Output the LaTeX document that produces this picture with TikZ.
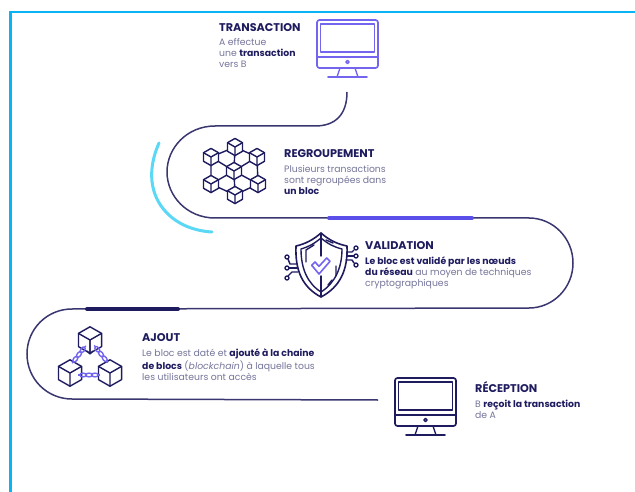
\documentclass[tikz,border=0pt]{standalone}
\usepackage{fontspec}
\setmainfont{Poppins}
\usetikzlibrary{arrows.meta}
\definecolor{navy}{HTML}{1E1B5E}
\definecolor{pathc}{HTML}{3A3770}
\definecolor{violet}{HTML}{5B4FEA}
\definecolor{iconv}{HTML}{7465EE}
\definecolor{sky}{HTML}{5AD8F5}
\definecolor{frame}{HTML}{08B4F4}
\definecolor{bodyc}{HTML}{75759B}
\newcommand{\hl}[1]{\textbf{\textcolor{navy}{#1}}}
\tikzset{
  ttl/.style={anchor=north west,inner sep=0pt,text=navy,font=\fontsize{11.2}{12}\selectfont\bfseries},
  bodytxt/.style={anchor=north west,inner sep=0pt,align=left,text=bodyc,font=\fontsize{9.3}{11}\selectfont},
  road/.style={draw=pathc,line width=1.5pt},
  ic/.style={line width=1.4pt,line join=round,line cap=round},
}
% monitor at upper-left corner
\newcommand{\monitor}[3]{%
\begin{scope}[shift={(#1,#2)},ic,draw=#3]
 \draw[rounded corners=2.5pt,line width=1.7pt] (0,0) rectangle (61,48);
 \draw[line width=1.5pt] (3.5,4) rectangle (57.5,32);
 \draw (0,37) -- (61,37);
 \draw (30.5,42) circle (1.7);
 \draw (23,48) -- (20,57) (38,48) -- (41,57);
 \draw[line width=1.7pt] (11,57) -- (50,57);
\end{scope}}
% cube centred at a point
\newcommand{\hcube}[3]{%
\begin{scope}[shift={(#1,#2)},ic,draw=navy,scale=#3]
 \draw (0,-8) -- (7,-4) -- (7,4) -- (0,8) -- (-7,4) -- (-7,-4) -- cycle;
 \draw (-7,-4) -- (0,0) -- (7,-4) (0,0) -- (0,8);
\end{scope}}
% chain between two points
\newcommand{\chainlink}[4]{%
\begin{scope}[shift={(#1,#2)},rotate=#3,draw=iconv,line width=1.4pt]
 \draw (-6,0) ellipse (3.2 and 1.9);
 \draw (0,0) ellipse (3.2 and 1.9);
 \draw (6,0) ellipse (3.2 and 1.9);
 \draw (-11,0) -- (-9.2,0) (9.2,0) -- (11,0);
\end{scope}}
\begin{document}
\begin{tikzpicture}[x=1pt,y=-1pt]
\useasboundingbox (0,0) rectangle (635,492);
\fill[white] (0,0) rectangle (635,492);
% frame
\draw[frame,line width=2.6pt] (10.7,492) -- (10.7,12) -- (635,12);
% road
\coordinate (r0) at (347,92);
\coordinate (r1) at (215,126);
\coordinate (r2) at (215,218);
\coordinate (r3) at (529,218);
\coordinate (r4) at (529,308);
\coordinate (r5) at (72,309);
\coordinate (r6) at (72,399);
\coordinate (r7) at (378,400);
\draw[road] (r0) .. controls (347,115) and (335,126) .. (315,126) -- (r1)
  .. controls (187,126) and (167,148) .. (167,172)
  .. controls (167,196) and (187,218) .. (r2) -- (r3)
  .. controls (553,218) and (573,238) .. (573,263)
  .. controls (573,288) and (553,308) .. (r4) -- (r5)
  .. controls (47,309) and (27,329) .. (27,354)
  .. controls (27,379) and (47,399) .. (r6) -- (r7);
% accent bars
\coordinate (b1a) at (329,218); \coordinate (b1b) at (472,218);
\coordinate (b2a) at (87,309); \coordinate (b2b) at (178,309);
\draw[violet,line width=4pt,line cap=round] (b1a) -- (b1b);
\draw[navy,line width=4pt,line cap=round] (b2a) -- (b2b);
\draw[sky,line width=3pt,line cap=round] (159,143) .. controls (147,170) and (150,195) .. (166,212) .. controls (178,225) and (195,231) .. (212,232);
% icons
\monitor{317}{20}{iconv}
\monitor{395}{378}{navy}
% cube cluster
\draw[ic,navy] (235,147) -- (211,157) -- (211,184) -- (235,195) -- (258,184) -- (257,157) -- cycle;
\draw[ic,navy] (211,157) -- (234,171) -- (257,157) (235,147) -- (234,171) -- (235,195) (211,184) -- (234,171) -- (258,184);
\foreach \cx/\cy in {235/147,211/157,257/157,234/171,211/184,258/184,235/195}{
  \fill[white] (\cx,\cy-8.5) -- (\cx+7.5,\cy-4.2) -- (\cx+7.5,\cy+4.2) -- (\cx,\cy+8.5) -- (\cx-7.5,\cy+4.2) -- (\cx-7.5,\cy-4.2) -- cycle;
  \hcube{\cx}{\cy}{1.07}}
% shield
\begin{scope}[ic,draw=navy]
 \draw[line width=1.6pt] (321,233) .. controls (313,240) and (305,244) .. (296,246)
   .. controls (295,270) and (302,287) .. (321,297)
   .. controls (340,287) and (348,270) .. (347,246)
   .. controls (337,244) and (329,240) .. (321,233) -- cycle;
 \draw (321,238) .. controls (314,244) and (308,247) .. (301,249)
   .. controls (301,268) and (307,283) .. (321,292)
   .. controls (335,283) and (342,268) .. (342,249)
   .. controls (334,247) and (328,244) .. (321,238) -- cycle;
 \draw (321,233) -- (321,256) (321,276) -- (321,297);
 \draw (306,262) -- (306,250) -- (314,245);
 \draw (336,266) -- (336,276) (332,280) -- (328,285);
 \draw (326,240) -- (333,243);
 % circuits
 \draw (297,264) -- (290,264) -- (288,259); \draw (287,257) circle (2);
 \draw (297,268) -- (289,268); \draw (287,268) circle (2);
 \draw (298,272) -- (292,272) -- (288,276); \draw (287,278) circle (2);
 \draw (347,252) -- (352,252) -- (354,250); \draw (356,248) circle (2);
 \draw (347,256) -- (354,256); \draw (356,256) circle (2);
 \draw (346,260) -- (352,260) -- (354,263); \draw (356,265) circle (2);
\end{scope}
\draw[iconv,line width=1.6pt,line join=round] (311.7,265.3) -- (315,262) -- (319,266.3) -- (326.7,258) -- (330,261.3) -- (319,274) -- cycle;
% blockchain
\hcube{90}{340}{1.65}
\hcube{70}{373}{1.65}
\hcube{110}{373}{1.65}
\draw[ic,navy] (90,340) -- (90,354) (87,351) -- (90,354) -- (93,351);
\chainlink{79}{354.5}{52}{}
\chainlink{101}{354}{-52}{}
\chainlink{89}{375}{0}{}
% text
\node[ttl] (t1) at (219,23.5) {TRANSACTION};
\node[bodytxt] (d1) at (219,38.5) {A effectue\\une \hl{transaction}\\vers B};
\node[ttl] (t2) at (284,149.5) {REGROUPEMENT};
\node[bodytxt] (d2) at (284,165) {Plusieurs transactions\\sont regroupées dans\\\hl{un bloc}};
\node[ttl] (t3) at (365,241.5) {VALIDATION};
\node[bodytxt] (d3) at (365,257) {\hl{Le bloc est validé par les nœuds}\\\hl{du réseau} au moyen de techniques\\cryptographiques};
\node[ttl] (t4) at (142,333.5) {AJOUT};
\node[bodytxt] (d4) at (142,349) {Le bloc est daté et \hl{ajouté à la chaine}\\\hl{de blocs} (\textit{blockchain}) à laquelle tous\\les utilisateurs ont accès};
\node[ttl] (t5) at (475,381) {RÉCEPTION};
\node[bodytxt] (d5) at (475,399.5) {B \hl{reçoit la transaction}\\de A};
\end{tikzpicture}
\end{document}
